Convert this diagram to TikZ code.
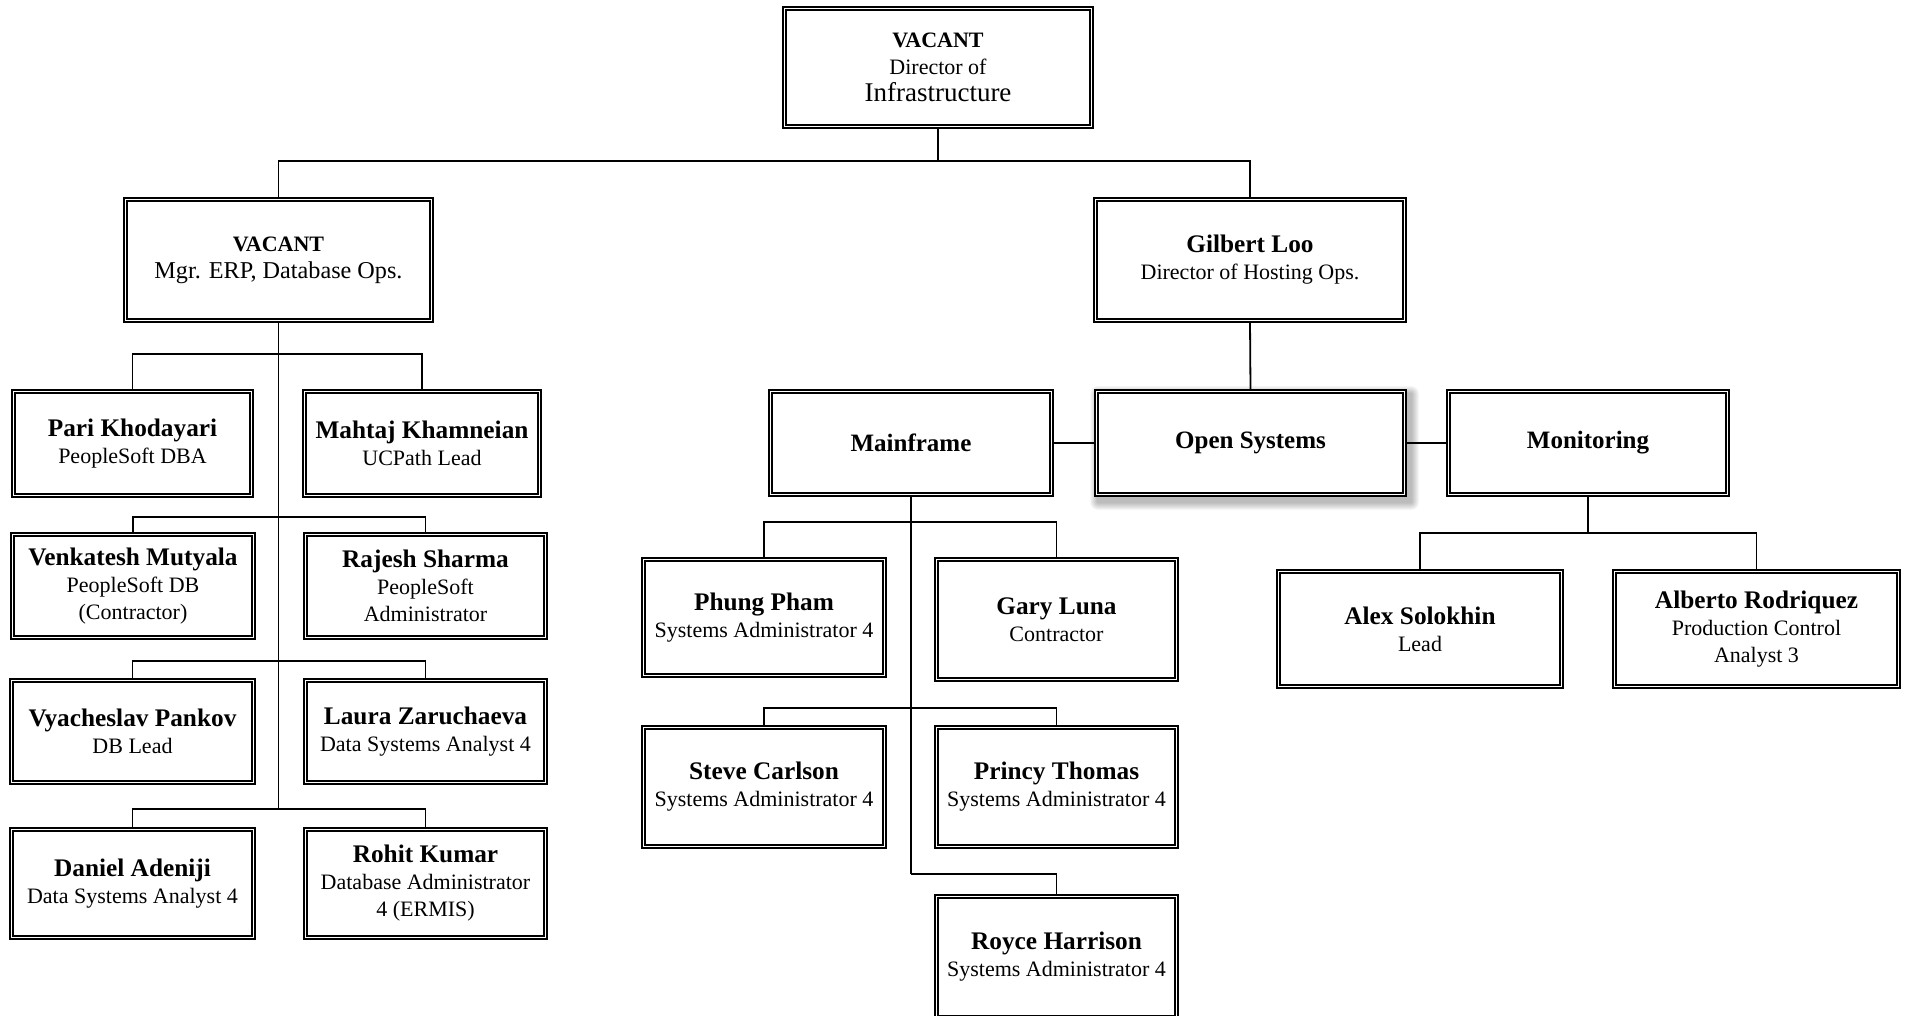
\documentclass[tikz,border=0pt]{standalone}
\usepackage{fontspec}
\setmainfont{Liberation Serif}
\usetikzlibrary{backgrounds}
\newcommand{\nm}[1]{{\fontsize{25.3}{27}\selectfont\bfseries #1}}
\newcommand{\hd}[1]{{\fontsize{25}{27}\selectfont\bfseries #1}}
\newcommand{\vac}{{\fontsize{22}{27}\selectfont\bfseries VACANT}}
\begin{document}
\begin{tikzpicture}[x=1pt,y=-1pt,
  box/.style={draw, line width=1.6pt, double=white, double distance=1.5pt,
    fill=white, align=center, inner sep=0pt, font=\fontsize{22}{27}\selectfont},
  wh/.style 2 args={minimum width=#1pt-4.7pt, minimum height=#2pt-4.7pt},
  link/.style={line width=1.8pt}]
\useasboundingbox (0,0) rectangle (1908,1016);
\clip (0,0) rectangle (1908,1016);

% top levels
\node[box, wh={312}{123}] (top) at (938,67.5) {\vac\\Director of\\{\fontsize{27}{27}\selectfont Infrastructure}};
\node[box, wh={311}{126}] (mgr) at (278.5,260) {\vac\\{\fontsize{24.2}{27}\selectfont Mgr. ERP, Database Ops.}};
\node[box, wh={314}{126}] (gil) at (1250,260) {\nm{Gilbert Loo}\\Director of Hosting Ops.};

% left column
\node[box, wh={243}{109}] (pari) at (132.5,443.5) {\nm{Pari Khodayari}\\PeopleSoft DBA};
\node[box, wh={240}{109}] (mahtaj) at (422,443.5) {\nm{Mahtaj Khamneian}\\UCPath Lead};
\node[box, wh={246}{108}] (venk) at (133,586) {\nm{Venkatesh Mutyala}\\PeopleSoft DB\\(Contractor)};
\node[box, wh={245}{108}] (rajesh) at (425.5,586) {\nm{Rajesh Sharma}\\PeopleSoft\\Administrator};
\node[box, wh={247}{107}] (vyach) at (132.5,731.5) {\nm{Vyacheslav Pankov}\\DB Lead};
\node[box, wh={245}{107}] (laura) at (425.5,731.5) {\nm{Laura Zaruchaeva}\\Data Systems Analyst 4};
\node[box, wh={247}{113}] (daniel) at (132.5,883.5) {\nm{Daniel Adeniji}\\Data Systems Analyst 4};
\node[box, wh={245}{113}] (rohit) at (425.5,883.5) {\nm{Rohit Kumar}\\Database Administrator\\4 (ERMIS)};

% hosting groups
\node[box, wh={313}{108}] (open) at (1250.5,443) {\hd{Open Systems}};
\node[box, wh={286}{108}] (main) at (911,443) {\hd{Mainframe}};
\node[box, wh={284}{108}] (mon) at (1588,443) {\hd{Monitoring}};

% mainframe staff
\node[box, wh={246}{121}] (phung) at (764,617.5) {\nm{Phung Pham}\\Systems Administrator 4};
\node[box, wh={245}{125}] (gary) at (1056.5,619.5) {\nm{Gary Luna}\\Contractor};
\node[box, wh={246}{124}] (steve) at (764,787) {\nm{Steve Carlson}\\Systems Administrator 4};
\node[box, wh={245}{124}] (princy) at (1056.5,787) {\nm{Princy Thomas}\\Systems Administrator 4};
\node[box, wh={245}{126}] (royce) at (1056.5,957) {\nm{Royce Harrison}\\Systems Administrator 4};

% monitoring staff
\node[box, wh={288}{120}] (alex) at (1420,629) {\nm{Alex Solokhin}\\Lead};
\node[box, wh={289}{120}] (alberto) at (1756.5,629) {\nm{Alberto Rodriquez}\\Production Control\\Analyst 3};

% junction points
\coordinate (j0) at (938,161);
\coordinate (l1) at (278.5,354);
\coordinate (l2) at (278.5,517);
\coordinate (l3) at (278.5,661);
\coordinate (l4) at (278.5,809);
\coordinate (m1) at (911,522);
\coordinate (m2) at (911,708);
\coordinate (m3) at (911,874);
\coordinate (mo) at (1588,533);

\begin{scope}[on background layer]
  \fill[white] (0,0) rectangle (1908,1016);
  \foreach \r in {1,...,8}{
    \fill[black, opacity=0.035, rounded corners=\r pt] (1098-\r,394-\r) rectangle (1411+\r,502+\r);
  }
  \draw[link] (top.south) -- (j0);
  \draw[link] (mgr.north) |- (j0) -| (gil.north);
  \draw[link] (mgr.south) -- (l4);
  \draw[link] (pari.north) |- (l1) -| (mahtaj.north);
  \draw[link] (venk.north) |- (l2) -| (rajesh.north);
  \draw[link] (vyach.north) |- (l3) -| (laura.north);
  \draw[link] (daniel.north) |- (l4) -| (rohit.north);
  \draw[link] (gil.south) -- (open.north);
  \draw[link] (main.east) -- (open.west);
  \draw[link] (open.east) -- (mon.west);
  \draw[link] (main.south) -- (m3);
  \draw[link] (phung.north) |- (m1) -| (gary.north);
  \draw[link] (steve.north) |- (m2) -| (princy.north);
  \draw[link] (m3) -| (royce.north);
  \draw[link] (mon.south) -- (mo);
  \draw[link] (alex.north) |- (mo) -| (alberto.north);
\end{scope}
\end{tikzpicture}
\end{document}
